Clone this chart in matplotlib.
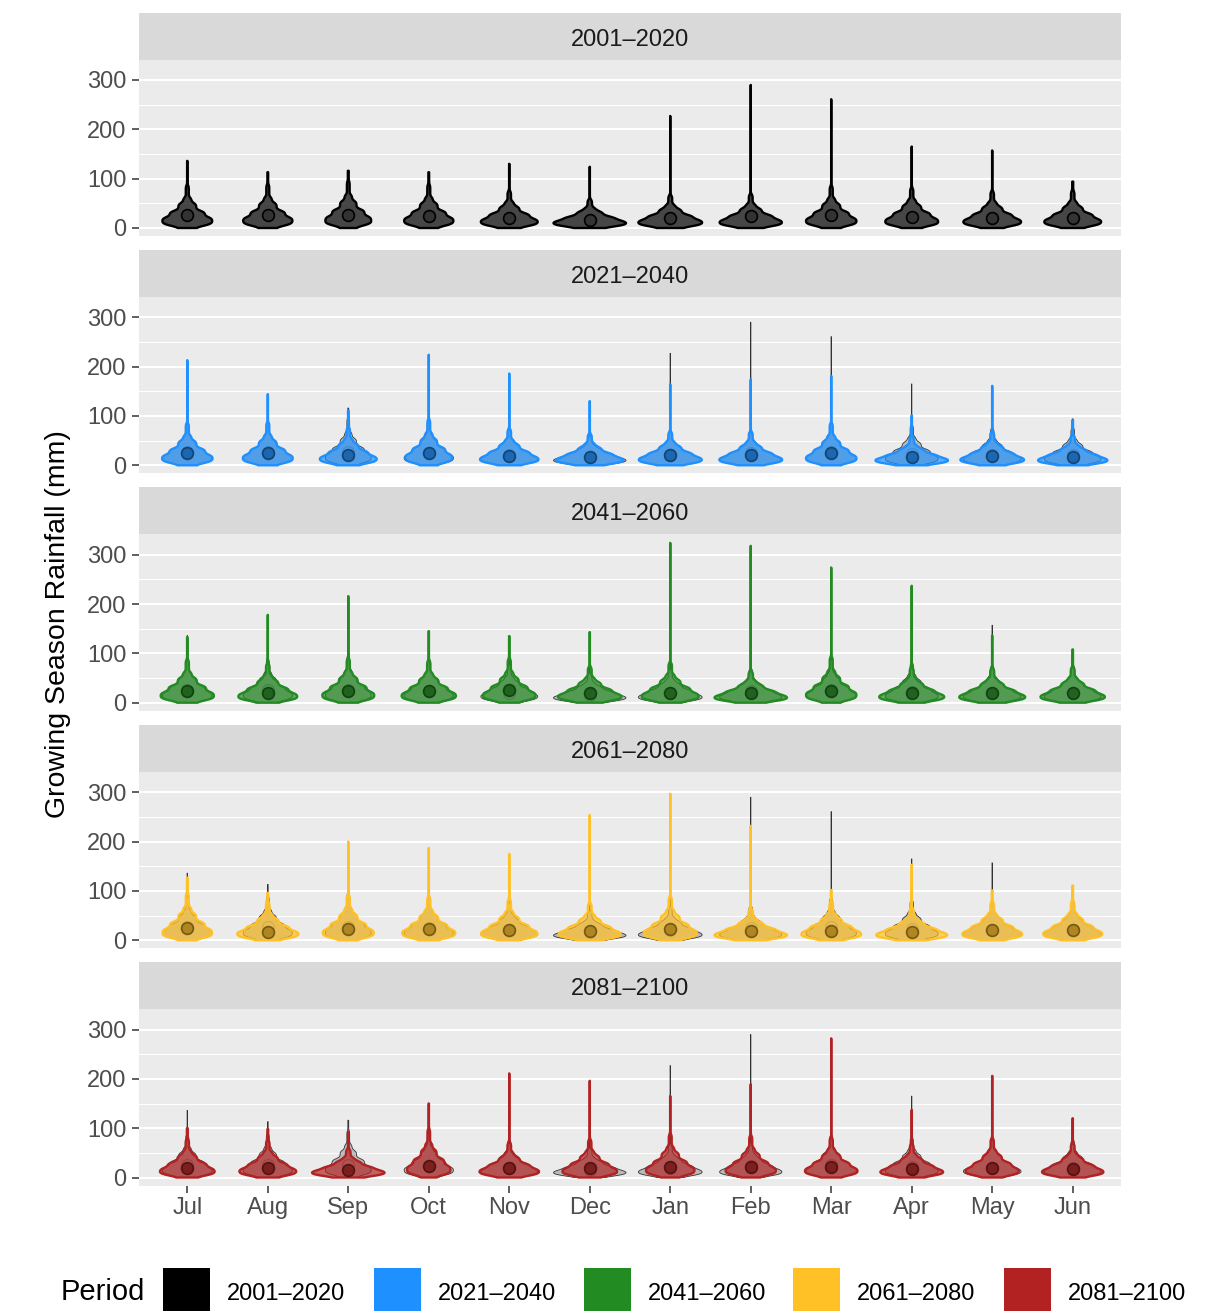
import numpy as np
import matplotlib
matplotlib.use("Agg")
import matplotlib.pyplot as plt
from matplotlib.patches import Rectangle
from matplotlib.colors import to_rgb

plt.rcParams['font.family'] = ['Liberation Sans', 'DejaVu Sans']

# ---------------- data ----------------
months = ["Jul", "Aug", "Sep", "Oct", "Nov", "Dec", "Jan", "Feb", "Mar", "Apr", "May", "Jun"]
periods = ["2001–2020", "2021–2040", "2041–2060", "2061–2080", "2081–2100"]
# probability levels of the quantiles listed for each month (min ... max)
probs = [0.0, 0.03, 0.10, 0.25, 0.50, 0.75, 0.90, 0.95, 0.99, 1.0]

q_2001_2020 = [
    [0, 3.4, 6.9, 12.5, 21.8, 35.0, 50.6, 61.7, 86.3, 136],
    [0, 3.4, 7.0, 12.7, 22.1, 35.5, 51.3, 62.6, 87.6, 113],
    [0, 3.7, 7.6, 13.6, 23.8, 38.2, 55.2, 67.4, 94.3, 116],
    [0, 3.4, 7.0, 12.7, 22.1, 35.5, 51.3, 62.6, 87.6, 113],
    [0, 2.9, 6.0, 10.9, 19.0, 30.4, 44.0, 53.6, 75.0, 130],
    [0, 2.3, 4.6, 8.4, 14.6, 23.4, 33.8, 41.3, 57.8, 124],
    [0, 2.6, 5.3, 9.6, 16.8, 26.9, 38.9, 47.4, 66.4, 227],
    [0, 2.7, 5.5, 9.9, 17.3, 27.7, 40.1, 48.9, 68.4, 290],
    [0, 3.3, 6.8, 12.3, 21.5, 34.5, 49.8, 60.7, 85.0, 261],
    [0, 3.2, 6.5, 11.7, 20.5, 32.9, 47.5, 57.9, 81.0, 165],
    [0, 2.9, 6.0, 10.8, 18.8, 30.2, 43.6, 53.1, 74.4, 157],
    [0, 2.9, 6.0, 10.9, 19.0, 30.4, 44.0, 53.6, 75.0, 94],
]
q_2021_2040 = [
    [0, 3.3, 6.8, 12.3, 21.5, 34.5, 49.8, 60.7, 85.0, 213],
    [0, 3.4, 6.9, 12.5, 21.8, 35.0, 50.6, 61.7, 86.3, 144],
    [0, 3.0, 6.1, 11.0, 19.1, 30.7, 44.3, 54.1, 75.7, 111],
    [0, 3.6, 7.4, 13.4, 23.3, 37.4, 54.1, 65.9, 92.3, 224],
    [0, 2.9, 5.9, 10.6, 18.5, 29.6, 42.8, 52.2, 73.0, 186],
    [0, 2.5, 5.1, 9.1, 15.9, 25.6, 37.0, 45.1, 63.1, 130],
    [0, 2.7, 5.4, 9.8, 17.1, 27.5, 39.7, 48.4, 67.7, 164],
    [0, 2.7, 5.4, 9.8, 17.1, 27.5, 39.7, 48.4, 67.7, 174],
    [0, 3.3, 6.8, 12.3, 21.5, 34.5, 49.8, 60.7, 85.0, 181],
    [0, 2.3, 4.6, 8.4, 14.6, 23.4, 33.8, 41.3, 57.8, 101],
    [0, 2.6, 5.4, 9.7, 16.9, 27.2, 39.3, 47.9, 67.1, 161],
    [0, 2.4, 4.8, 8.7, 15.3, 24.5, 35.4, 43.2, 60.4, 91],
]
q_2041_2060 = [
    [0, 3.4, 7.0, 12.6, 22.0, 35.3, 51.0, 62.1, 87.0, 133],
    [0, 3.1, 6.3, 11.3, 19.8, 31.8, 45.9, 56.0, 78.4, 178],
    [0, 3.5, 7.1, 12.9, 22.5, 36.1, 52.1, 63.6, 89.0, 216],
    [0, 3.3, 6.8, 12.3, 21.5, 34.5, 49.8, 60.7, 85.0, 145],
    [0, 3.5, 7.1, 12.8, 22.3, 35.8, 51.7, 63.1, 88.3, 135],
    [0, 2.8, 5.8, 10.5, 18.3, 29.4, 42.4, 51.7, 72.4, 143],
    [0, 3.2, 6.5, 11.7, 20.5, 32.9, 47.5, 57.9, 81.0, 324],
    [0, 2.5, 5.1, 9.1, 15.9, 25.6, 37.0, 45.1, 63.1, 318],
    [0, 3.6, 7.4, 13.4, 23.3, 37.4, 54.1, 65.9, 92.3, 274],
    [0, 2.8, 5.6, 10.2, 17.8, 28.5, 41.2, 50.3, 70.4, 237],
    [0, 2.7, 5.5, 10.0, 17.5, 28.0, 40.5, 49.3, 69.1, 136],
    [0, 2.8, 5.7, 10.3, 18.0, 28.8, 41.6, 50.8, 71.0, 108],
]
q_2061_2080 = [
    [0, 3.7, 7.6, 13.6, 23.8, 38.2, 55.2, 67.4, 94.3, 127],
    [0, 3.0, 6.1, 11.0, 19.1, 30.7, 44.3, 54.1, 75.7, 96],
    [0, 3.6, 7.3, 13.2, 23.0, 36.9, 53.3, 65.0, 91.0, 200],
    [0, 3.4, 7.0, 12.7, 22.1, 35.5, 51.3, 62.6, 87.6, 187],
    [0, 3.2, 6.6, 11.9, 20.8, 33.4, 48.2, 58.8, 82.3, 175],
    [0, 2.9, 6.0, 10.8, 18.8, 30.2, 43.6, 53.1, 74.4, 254],
    [0, 3.4, 7.0, 12.7, 22.1, 35.5, 51.3, 62.6, 87.6, 297],
    [0, 2.5, 5.1, 9.1, 15.9, 25.6, 37.0, 45.1, 63.1, 232],
    [0, 3.0, 6.2, 11.1, 19.5, 31.2, 45.1, 55.0, 77.0, 102],
    [0, 2.5, 5.2, 9.3, 16.3, 26.1, 37.7, 46.0, 64.4, 153],
    [0, 3.0, 6.2, 11.1, 19.5, 31.2, 45.1, 55.0, 77.0, 101],
    [0, 3.1, 6.3, 11.3, 19.8, 31.8, 45.9, 56.0, 78.4, 111],
]
q_2081_2100 = [
    [0, 3.0, 6.2, 11.1, 19.5, 31.2, 45.1, 55.0, 77.0, 100],
    [0, 2.9, 6.0, 10.8, 18.8, 30.2, 43.6, 53.1, 74.4, 98],
    [0, 2.2, 4.6, 8.3, 14.4, 23.2, 33.5, 40.8, 57.1, 93],
    [0, 3.8, 7.8, 14.1, 24.7, 39.6, 57.2, 69.7, 97.6, 150],
    [0, 2.8, 5.6, 10.2, 17.8, 28.5, 41.2, 50.3, 70.4, 211],
    [0, 3.0, 6.2, 11.1, 19.5, 31.2, 45.1, 55.0, 77.0, 196],
    [0, 3.4, 7.0, 12.7, 22.1, 35.5, 51.3, 62.6, 87.6, 165],
    [0, 3.3, 6.8, 12.2, 21.3, 34.2, 49.4, 60.2, 84.3, 189],
    [0, 3.1, 6.4, 11.6, 20.3, 32.6, 47.1, 57.4, 80.3, 282],
    [0, 2.6, 5.4, 9.7, 16.9, 27.2, 39.3, 47.9, 67.1, 137],
    [0, 3.1, 6.3, 11.4, 20.0, 32.0, 46.3, 56.5, 79.0, 206],
    [0, 2.7, 5.5, 9.9, 17.3, 27.7, 40.1, 48.9, 68.4, 120],
]
# monthly mean rainfall (circle marks)
mean_2001_2020 = [26, 26, 26, 24, 20, 16, 20, 24, 26, 22, 20, 20]
mean_2021_2040 = [24, 24, 20, 24, 19, 17, 20, 20, 24, 16, 19, 16]
mean_2041_2060 = [24, 20, 24, 24, 26, 20, 20, 19, 24, 19, 19, 19]
mean_2061_2080 = [25, 17, 23, 23, 21, 19, 23, 19, 19, 17, 20, 20]
mean_2081_2100 = [19, 19, 15, 23, 19, 19, 21, 21, 21, 17, 19, 17]

period_colors = ["#000000", "#1E90FF", "#228B22", "#FFC125", "#B22222"]

all_q = [q_2001_2020, q_2021_2040, q_2041_2060, q_2061_2080, q_2081_2100]
all_mean = [mean_2001_2020, mean_2021_2040, mean_2041_2060, mean_2061_2080, mean_2081_2100]


# ---------------- helpers ----------------
def density_from_quantiles(q, step=0.25, sigma=3.0):
    q = np.asarray(q, float)
    p = np.asarray(probs, float)
    y = np.arange(q[0], q[-1] + step / 2, step)
    idx = np.clip(np.searchsorted(q, y, side='right') - 1, 0, len(q) - 2)
    d = np.diff(p)[idx] / np.diff(q)[idx]
    k = int(3 * sigma / step)
    kern = np.exp(-0.5 * (np.arange(-k, k + 1) * step / sigma) ** 2)
    kern /= kern.sum()
    ds = np.convolve(np.pad(d, k, mode='edge'), kern, mode='valid')
    return y, ds


def mix(c, other, t):
    a = np.array(to_rgb(c)); b = np.array(to_rgb(other))
    return tuple(a * (1 - t) + b * t)


def draw_layer(ax, qlist, fc, fa, ec, lw, z):
    dens = [density_from_quantiles(q) for q in qlist]
    dmax = max(d.max() for _, d in dens)
    for i, (y, d) in enumerate(dens):
        x = i + 1
        hw = 0.45 * d / dmax
        ax.fill_betweenx(y, x - hw, x + hw, facecolor=fc, alpha=fa, edgecolor='none', zorder=z)
        ax.fill_betweenx(y, x - hw, x + hw, facecolor='none', edgecolor=ec, linewidth=lw,
                         joinstyle='round', zorder=z + 0.1)


# ---------------- layout ----------------
W, H = 1232, 1311
fig = plt.figure(figsize=(W / 100, H / 100), dpi=100)
ax_l, ax_r = 139, 1121
zeros = [228.0, 465.3, 702.7, 940.3, 1177.5]
ppu = 148.0 / 300.0
ylo, yhi = -16.25, 341.25
strip_h = 47

xs = np.arange(1, len(months) + 1)

for k in range(5):
    top = zeros[k] - yhi * ppu
    bot = zeros[k] - ylo * ppu
    ax = fig.add_axes([ax_l / W, 1 - bot / H, (ax_r - ax_l) / W, (bot - top) / H])
    ax.set_facecolor('#EBEBEB')
    ax.set_xlim(0.4, len(months) + 0.6)
    ax.set_ylim(ylo, yhi)
    for s in ax.spines.values():
        s.set_visible(False)
    ax.set_yticks([0, 100, 200, 300])
    ax.set_yticks([50, 150, 250], minor=True)
    ax.grid(True, which='major', axis='y', color='white', linewidth=1.5, zorder=0)
    ax.grid(True, which='minor', axis='y', color='white', linewidth=0.75, zorder=0)
    ax.set_axisbelow(True)
    ax.tick_params(axis='y', which='major', length=5, width=1.1, color='#333333',
                   labelsize=17, labelcolor='#4D4D4D', pad=4)
    ax.tick_params(axis='y', which='minor', length=0)
    ax.set_xticks(xs)
    if k == 4:
        ax.set_xticklabels(months)
        ax.tick_params(axis='x', length=5, width=1.1, color='#333333',
                       labelsize=17, labelcolor='#4D4D4D', pad=3)
    else:
        ax.tick_params(axis='x', length=0, labelbottom=False)

    col = period_colors[k]
    if k == 0:
        draw_layer(ax, all_q[0], '#000000', 0.7, '#000000', 1.7, 3)
        ax.plot(xs, all_mean[0], 'o', ms=8.5, mfc='#333333', mec='#000000', mew=1.2,
                linestyle='none', zorder=5)
    else:
        # baseline period overlay
        draw_layer(ax, all_q[0], '#808080', 0.45, '#333333', 0.6, 2)
        ax.plot(xs, all_mean[0], 'o', ms=8.5, mfc='none', mec='#555555', mew=0.8,
                alpha=0.6, linestyle='none', zorder=2.5)
        draw_layer(ax, all_q[k], col, 0.68, col, 1.7, 3)
        ax.plot(xs, all_mean[k], 'o', ms=8.5, mfc=mix(col, 'black', 0.35),
                mec=mix(col, 'black', 0.6), mew=1.2, alpha=0.85, linestyle='none', zorder=5)

    sax = fig.add_axes([ax_l / W, 1 - top / H, (ax_r - ax_l) / W, strip_h / H])
    sax.set_facecolor('#D9D9D9')
    sax.set_xticks([]); sax.set_yticks([])
    for s in sax.spines.values():
        s.set_visible(False)
    sax.text(0.5, 0.30, periods[k], ha='center', va='baseline', fontsize=17,
             color='#1A1A1A', transform=sax.transAxes)

# y label
fig.text(58 / W, 1 - 624 / H, "Growing Season Rainfall (mm)", rotation=90,
         ha='center', va='center', fontsize=20.5, color='black')

# legend
leg_base = 1300
fig.text(61 / W, 1 - leg_base / H, "Period", ha='left', va='baseline', fontsize=21, color='black')
key_x = [163, 374, 584, 793, 1004]
for k in range(5):
    fig.patches.append(Rectangle((key_x[k] / W, 1 - 1315 / H), 47 / W, 47 / H,
                                 transform=fig.transFigure, facecolor=period_colors[k],
                                 edgecolor='none'))
    fig.text((key_x[k] + 64) / W, 1 - leg_base / H, periods[k], ha='left', va='baseline',
             fontsize=17, color='black')

fig.savefig("out.png", dpi=100, facecolor='white')
